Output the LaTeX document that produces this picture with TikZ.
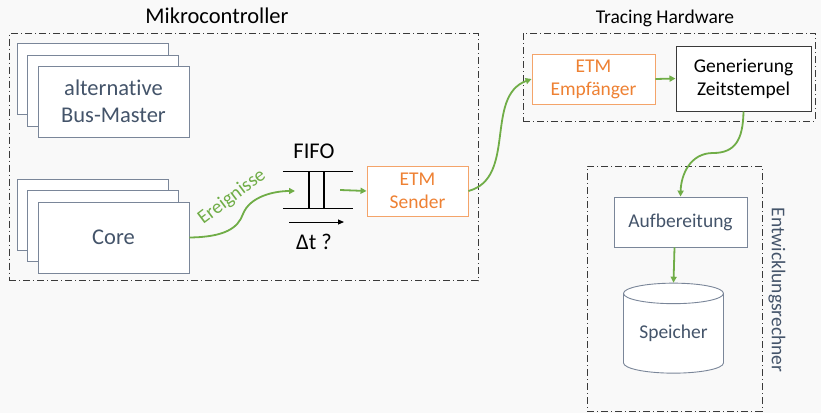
\documentclass[tikz,border=0pt]{standalone}
\usepackage{fontspec}
\setmainfont{Carlito}[Ligatures={NoCommon}]
\usetikzlibrary{arrows.meta,shapes.geometric}

\definecolor{bgcol}{HTML}{F9F9F9}
\definecolor{slate}{HTML}{44546A}
\definecolor{boxline}{HTML}{7A8699}
\definecolor{etmline}{HTML}{F4A46A}
\definecolor{etmtext}{HTML}{EE8133}
\definecolor{flow}{HTML}{70AD47}
\definecolor{framecol}{HTML}{3A3A3A}

\tikzset{
  bigfont/.style={font=\fontsize{22.5}{27}\selectfont},
  smallfont/.style={font=\fontsize{19.5}{23}\selectfont},
  box/.style={draw=boxline, line width=0.9pt, fill=white, text=slate, align=center},
  etmbox/.style={draw=etmline, line width=0.9pt, fill=white, text=etmtext, align=center, smallfont},
  frame/.style={draw=framecol, line width=0.8pt, dash pattern=on 7pt off 3pt on 1pt off 3pt},
  flowarrow/.style={draw=flow, line width=1.8pt, -{Triangle[length=6pt,width=6pt]}},
}

\begin{document}
\begin{tikzpicture}[x=1pt,y=-1pt]
    \fill [bgcol] (0,0) rectangle (821,413);
    \useasboundingbox (0,0) rectangle (821,413);
    % frames
    \node [frame, minimum width=469pt, minimum height=247pt] (mc) at (243.5,157) {};
    \node [bigfont] (mctitle) at (217,16) {Mikrocontroller};
    \node [frame, minimum width=292pt, minimum height=88pt] (th) at (669,77) {};
    \node [smallfont] (thtitle) at (665,18) {Tracing Hardware};
    \node [frame, minimum width=175pt, minimum height=245pt] (er) at (674.5,288.5) {};
    \node [smallfont, text=slate, rotate=-90] (ertitle) at (777,290) {Entwicklungsrechner};
    % stacked boxes
    \node [box, minimum width=151pt, minimum height=71pt] (alt3) at (92.5,78.5) {};
    \node [box, minimum width=151pt, minimum height=71pt] (alt2) at (103,90.5) {};
    \node [box, bigfont, minimum width=151pt, minimum height=71pt] (alt) at (113.5,101.5) {alternative\\Bus-Master};
    \node [box, minimum width=151pt, minimum height=71pt] (core3) at (92.5,214.5) {};
    \node [box, minimum width=151pt, minimum height=71pt] (core2) at (103,226) {};
    \node [box, bigfont, minimum width=151pt, minimum height=71pt] (core) at (113.5,237.5) {Core};
    % FIFO
    \node [minimum width=70pt, minimum height=36pt, inner sep=0pt] (fifo) at (318,190) {};
    \draw [line width=1.2pt] (fifo.north west) -- (fifo.north east);
    \draw [line width=1.2pt] (fifo.south west) -- (fifo.south east);
    \draw [line width=1.2pt] ([xshift=-9pt]fifo.north) -- ([xshift=-9pt]fifo.south);
    \draw [line width=1.2pt] ([xshift=6pt]fifo.north) -- ([xshift=6pt]fifo.south);
    \node [bigfont] (fifotitle) at (314,151) {FIFO};
    \coordinate (dtstart) at (289,222);
    \coordinate (dtend) at (344,222);
    \draw [line width=1pt, -{Triangle[length=6pt,width=5pt]}] (dtstart) -- (dtend);
    \node [bigfont] (dt) at (314,242) {Δt ?};
    % ETM
    \node [etmbox, minimum width=101pt, minimum height=50pt] (sender) at (417.5,191) {ETM\\Sender};
    \node [etmbox, minimum width=123pt, minimum height=50pt] (empf) at (593.5,79) {ETM\\Empfänger};
    \node [draw=framecol, line width=1pt, fill=white, align=center, smallfont, minimum width=135pt, minimum height=65pt] (gen) at (743.5,78.5) {Generierung\\Zeitstempel};
    \node [box, smallfont, minimum width=133pt, minimum height=50pt] (aufb) at (680.5,222) {Aufbereitung};
    \node [box, smallfont, cylinder, shape border rotate=90, aspect=0.3, minimum width=100pt, minimum height=90pt, inner sep=0pt] (spei) at (673.5,333.5) {Speicher};
    % connections
    \coordinate (fifoin) at (295,191);
    \draw [flowarrow] (core.east) .. controls (225,237) and (238,228) .. (243,214)
        .. controls (250,196) and (275,191) .. (fifoin);
    \node [smallfont, text=flow, rotate=37] (ereig) at (232,197) {Ereignisse};
    \draw [flowarrow] ([xshift=-13pt]fifo.east) -- (sender.west);
    \draw [flowarrow] (sender.east) to[out=15, in=200] (empf.west);
    \draw [flowarrow] (empf.east) -- (gen.west);
    \draw [flowarrow] (gen.south) .. controls (743,140) and (735,153) .. (713,153)
        .. controls (690,153) and (681,175) .. (aufb.north);
    \draw [flowarrow] ([xshift=-6pt]aufb.south) -- (spei.north);
\end{tikzpicture}
\end{document}
